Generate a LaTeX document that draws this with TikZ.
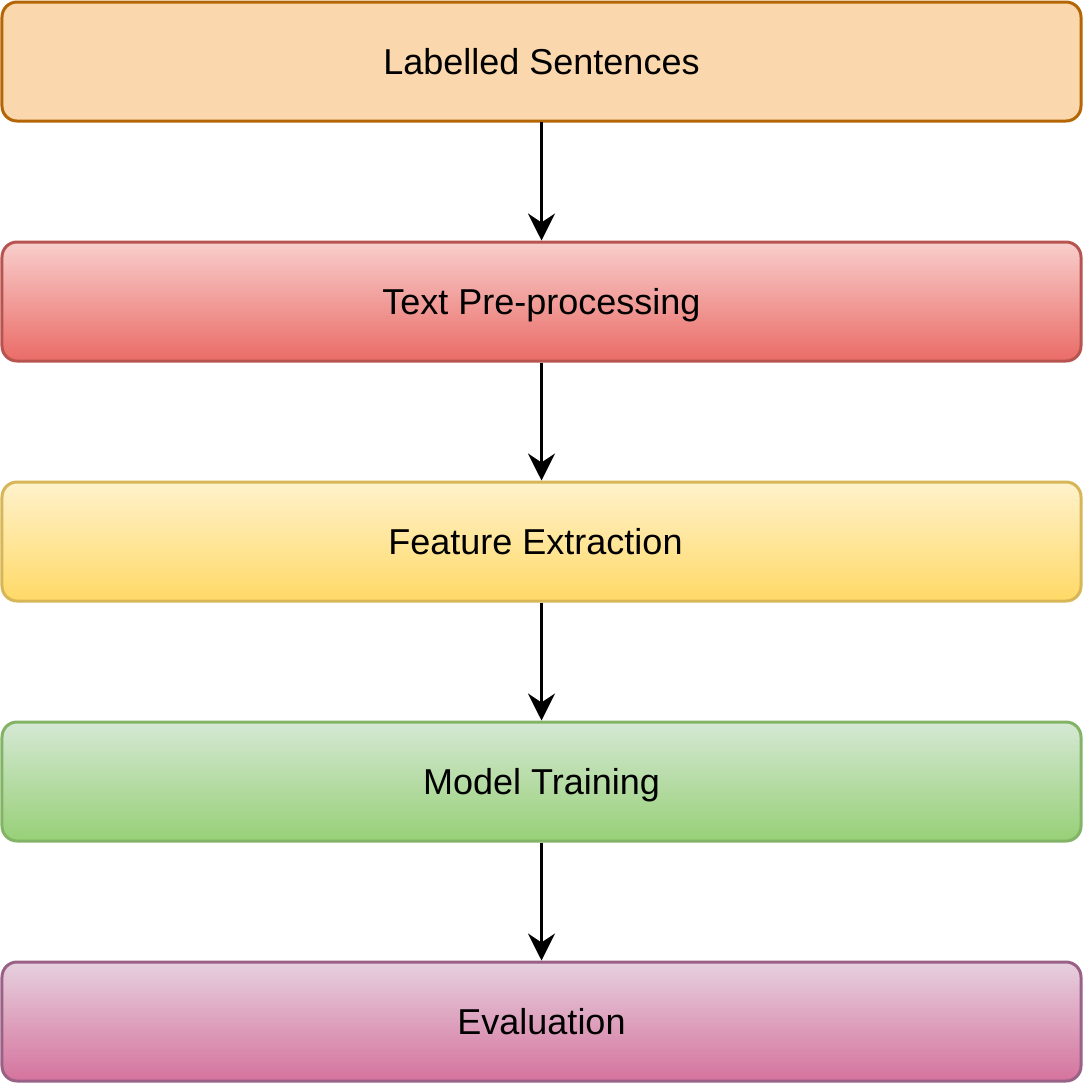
\documentclass[tikz,border=0pt]{standalone}
\usepackage{fontspec}
\setmainfont{Liberation Sans}
\usetikzlibrary{arrows.meta,matrix,shadings}

\definecolor{orangefill}{HTML}{FAD7AC}
\definecolor{orangeline}{HTML}{B46504}
\definecolor{redtop}{HTML}{F8CECC}
\definecolor{redbot}{HTML}{EA6B66}
\definecolor{redline}{HTML}{B85450}
\definecolor{yellowtop}{HTML}{FFF2CC}
\definecolor{yellowbot}{HTML}{FFD966}
\definecolor{yellowline}{HTML}{D6B656}
\definecolor{greentop}{HTML}{D5E8D4}
\definecolor{greenbot}{HTML}{97D077}
\definecolor{greenline}{HTML}{82B366}
\definecolor{purpletop}{HTML}{E6D0DE}
\definecolor{purplebot}{HTML}{D5739D}
\definecolor{purpleline}{HTML}{996185}

\tikzset{
  stage/.style={rectangle,rounded corners=15pt,line width=3pt,minimum width=1079pt,
    minimum height=119pt,text height=26pt,text depth=0pt,font=\fontsize{36}{43}\selectfont},
  flow/.style={line width=3pt,-{Stealth[length=27pt,width=27pt,inset=9pt]}}
}

\begin{document}
\begin{tikzpicture}[x=1pt,y=1pt]
  \useasboundingbox (0,0) rectangle (1083,-1083);
  \matrix (m) at (541.5,-541.5) [matrix of nodes,row sep=118pt,nodes={stage}]
  {
     |[draw=orangeline,fill=orangefill]| Labelled Sentences \\
     |[draw=redline,top color=redtop,bottom color=redbot]| Text Pre-processing \\
     |[draw=yellowline,top color=yellowtop,bottom color=yellowbot]| Feature Extraction\hspace*{12pt} \\
     |[draw=greenline,top color=greentop,bottom color=greenbot]| Model Training \\
     |[draw=purpleline,top color=purpletop,bottom color=purplebot]| Evaluation \\};
  \path[flow]
    (m-1-1) edge (m-2-1)
    (m-2-1) edge (m-3-1)
    (m-3-1) edge (m-4-1)
    (m-4-1) edge (m-5-1);
\end{tikzpicture}
\end{document}
